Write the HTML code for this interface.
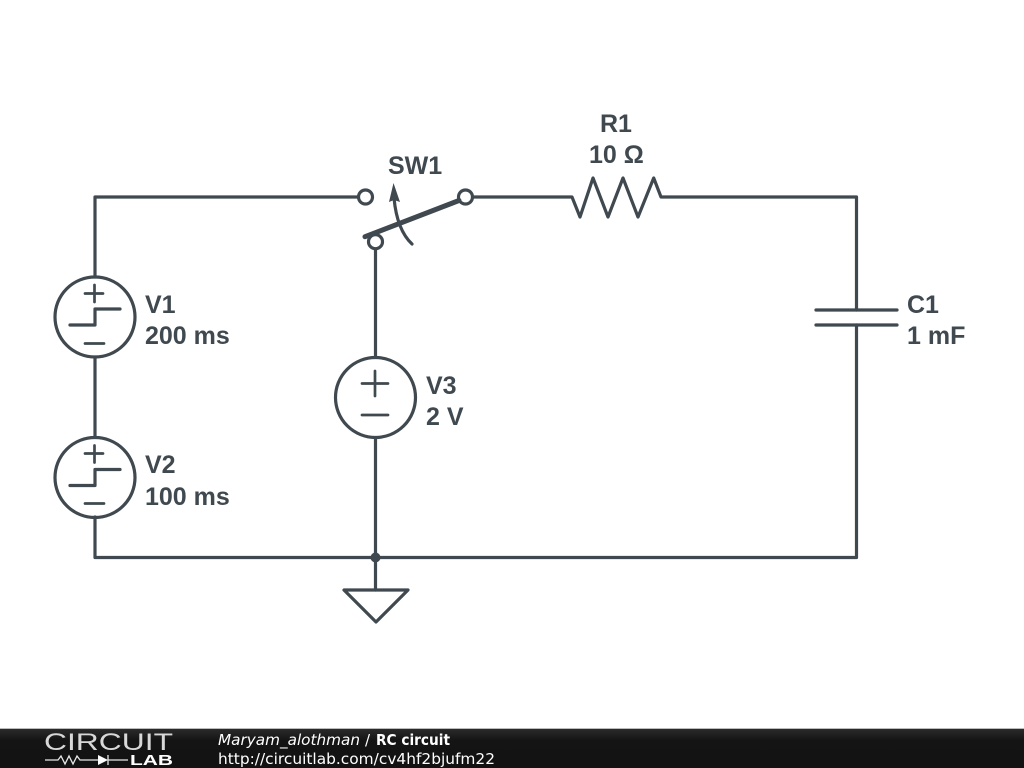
<!DOCTYPE html>
<html>
<head>
<meta charset="utf-8">
<style>
html,body{margin:0;padding:0;background:#fff;width:1024px;height:768px;overflow:hidden}
svg{display:block}
.l{font-family:"Liberation Sans",sans-serif;font-weight:bold;font-size:25px;fill:#3f494f}
.f{font-family:"DejaVu Sans",sans-serif;font-size:15px;fill:#fff}
</style>
</head>
<body>
<svg width="1024" height="768" viewBox="0 0 1024 768" xmlns="http://www.w3.org/2000/svg">
<defs>
  <linearGradient id="bar" x1="0" y1="0" x2="0" y2="1">
    <stop offset="0" stop-color="#2a2a2a"/>
    <stop offset="0.3" stop-color="#141414"/>
    <stop offset="1" stop-color="#121212"/>
  </linearGradient>
</defs>
<rect width="1024" height="768" fill="#fff"/>
<g fill="none" stroke="#3f494f" stroke-width="3.200" stroke-linecap="round" stroke-linejoin="round">
  <!-- wires -->
  <path d="M358.500 197H95V277M95 357V437M95 517V557.500H856.500V325M856.500 310V197H661L653.700 178L638 217L623 178L608 217L593 178L580 217L572 197H472.500"/>
  <path d="M375.500 249V357M375.500 438V590"/>
  <!-- switch terminals -->
  <circle cx="365.500" cy="197" r="7"/>
  <circle cx="465.500" cy="197" r="7"/>
  <circle cx="375.500" cy="241.700" r="7"/>
  <path d="M365 236.700L459 200.500" stroke-width="5"/>
  <path d="M412 244Q397 230 394 198"/>
  <!-- sources -->
  <circle cx="95" cy="317" r="40"/>
  <circle cx="95" cy="477.500" r="40"/>
  <circle cx="375.500" cy="397.500" r="40"/>
  <path d="M70 325H95V309H120M70 485.500H95V469.500H120"/>
  <g stroke-width="2.700">
    <path d="M85 293.500H103M94.500 285V302M85 343.500H104"/>
    <path d="M85 453.500H103M94.500 445.500V462.500M85 503.500H104"/>
    <path d="M362 383.500H388M375 371V396M362 415H388"/>
  </g>
  <!-- capacitor -->
  <path d="M816 310H897M816 325H897"/>
  <!-- ground -->
  <path d="M344 590H408L376 622Z"/>
</g>
<path d="M393.500 183L400 202L394 200L389 202Z" fill="#3f494f"/>
<circle cx="375.500" cy="557.500" r="5" fill="#3f494f"/>
<text class="l" x="388" y="174">SW1</text>
<text class="l" x="600" y="132">R1</text>
<text class="l" x="589" y="163">10 Ω</text>
<text class="l" x="145" y="313">V1</text>
<text class="l" x="145" y="344">200 ms</text>
<text class="l" x="145" y="473">V2</text>
<text class="l" x="145" y="505">100 ms</text>
<text class="l" x="426" y="394">V3</text>
<text class="l" x="426" y="425">2 V</text>
<text class="l" x="907" y="313">C1</text>
<text class="l" x="907" y="344">1 mF</text>
<!-- footer -->
<rect x="0" y="729" width="1024" height="39" fill="url(#bar)"/>
<rect x="0" y="728" width="1024" height="1" fill="#bbb"/>
<text x="44" y="750" font-family="'Liberation Sans',sans-serif" font-size="24" fill="#d8d8d8" textLength="129" lengthAdjust="spacingAndGlyphs">CIRCUIT</text>
<path d="M45 760H58L61 756L65 764L69 756L73 764L77 756L80 760H98M108 760H128M108 755V765" fill="none" stroke="#e8e8e8" stroke-width="1.300"/>
<path d="M98 755V765L108 760Z" fill="#fff"/>
<text x="130" y="765" font-family="'Liberation Sans',sans-serif" font-size="15" font-weight="bold" fill="#fff" textLength="43" lengthAdjust="spacingAndGlyphs">LAB</text>
<text class="f" x="218" y="745" font-style="italic" textLength="142" lengthAdjust="spacingAndGlyphs">Maryam_alothman</text>
<text class="f" x="365" y="745">/</text>
<text class="f" x="376" y="745" font-weight="bold" font-size="14" textLength="74" lengthAdjust="spacingAndGlyphs">RC circuit</text>
<text class="f" x="218" y="764" textLength="277" lengthAdjust="spacingAndGlyphs">http://circuitlab.com/cv4hf2bjufm22</text>
</svg>
</body>
</html>
